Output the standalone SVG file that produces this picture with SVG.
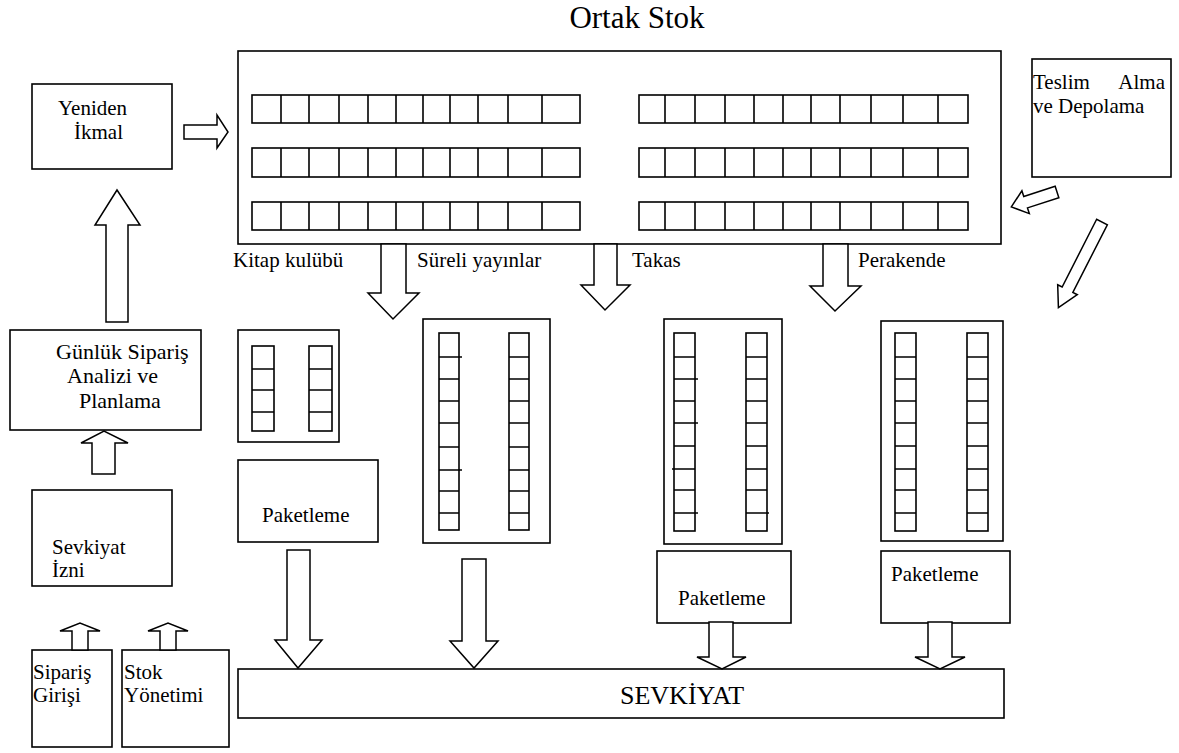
<svg xmlns="http://www.w3.org/2000/svg" width="1179" height="753" viewBox="0 0 1179 753" font-family="Liberation Serif, Times New Roman, DejaVu Serif, serif">
<style>
text{fill:#000;font-size:21px}
text.t{font-size:31px}
text.g{font-size:22px}
text.v{font-size:26px}
.b{fill:#fff;stroke:#000;stroke-width:1.6}
.s{fill:none;stroke:#000;stroke-width:1.6}
.a{fill:#fff;stroke:#000;stroke-width:1.5;stroke-linejoin:miter}
</style>
<rect width="1179" height="753" fill="#fff"/>
<text class="t" x="637" y="28" text-anchor="middle">Ortak Stok</text>

<g id="ortak-stok">
<rect class="b" x="238" y="51" width="763" height="193"/>
<g id="raf-sol">
<rect class="s" x="252" y="95" width="328" height="28"/>
<rect class="s" x="252" y="148" width="328" height="29"/>
<rect class="s" x="252" y="202" width="328" height="28"/>
<path class="s" d="M281,95V123M309,95V123M339,95V123M368,95V123M396,95V123M423,95V123M450,95V123M478,95V123M508,95V123M542,95V123M281,148V177M309,148V177M339,148V177M368,148V177M396,148V177M423,148V177M450,148V177M478,148V177M508,148V177M542,148V177M281,202V230M309,202V230M339,202V230M368,202V230M396,202V230M423,202V230M450,202V230M478,202V230M508,202V230M542,202V230"/>
</g>
<g id="raf-sag">
<rect class="s" x="639" y="95" width="329" height="28"/>
<rect class="s" x="639" y="148" width="329" height="29"/>
<rect class="s" x="639" y="202" width="329" height="28"/>
<path class="s" d="M665,95V123M695,95V123M725,95V123M754,95V123M783,95V123M811,95V123M840,95V123M871,95V123M903,95V123M938,95V123M665,148V177M695,148V177M725,148V177M754,148V177M783,148V177M811,148V177M840,148V177M871,148V177M903,148V177M938,148V177M665,202V230M695,202V230M725,202V230M754,202V230M783,202V230M811,202V230M840,202V230M871,202V230M903,202V230M938,202V230"/>
</g>
</g>

<g id="yeniden-ikmal">
<rect class="b" x="32" y="84" width="140" height="85"/>
<text x="58" y="115">Yeniden</text>
<text x="74" y="139">İkmal</text>
</g>

<g id="teslim-alma">
<rect class="b" x="1032" y="59" width="139" height="118"/>
<text x="1033" y="89">Teslim</text>
<text x="1165" y="89" text-anchor="end">Alma</text>
<text x="1033" y="113">ve Depolama</text>
</g>

<g id="gunluk-siparis">
<rect class="b" x="10" y="330" width="191" height="100"/>
<text class="g" x="56" y="359">Günlük Sipariş</text>
<text class="g" x="67" y="383">Analizi ve</text>
<text class="g" x="79" y="408">Planlama</text>
</g>

<g id="sevkiyat-izni">
<rect class="b" x="32" y="490" width="140" height="96"/>
<text x="52" y="554">Sevkiyat</text>
<text x="52" y="577">İzni</text>
</g>

<g id="siparis-girisi">
<rect class="b" x="32" y="650" width="80" height="97"/>
<text x="33" y="679">Sipariş</text>
<text x="33" y="702">Girişi</text>
</g>

<g id="stok-yonetimi">
<rect class="b" x="122" y="650" width="107" height="97"/>
<text x="124" y="679">Stok</text>
<text x="124" y="702">Yönetimi</text>
</g>

<g id="labels">
<text x="233" y="267">Kitap kulübü</text>
<text x="417" y="267">Süreli yayınlar</text>
<text x="632" y="267">Takas</text>
<text x="858" y="267">Perakende</text>
</g>

<g id="raf-kitap">
<rect class="b" x="238" y="330" width="101" height="112"/>
<rect class="s" x="252" y="346" width="22" height="85"/>
<rect class="s" x="309" y="346" width="23" height="85"/>
<path class="s" d="M252,369H274M252,390H274M252,412H274M309,369H332M309,390H332M309,412H332"/>
</g>

<g id="paketleme-1">
<rect class="b" x="238" y="460" width="140" height="82"/>
<text x="262" y="522">Paketleme</text>
</g>

<g id="raf-sureli">
<rect class="b" x="423" y="319" width="127" height="224"/>
<rect class="s" x="439" y="333" width="20" height="197"/>
<rect class="s" x="509" y="333" width="20" height="197"/>
<path class="s" d="M439,357H462M439,379H459M439,401H459M439,423H459M439,447H459M439,470H462M439,491H459M439,513H459M509,357H529M509,379H529M509,401H529M509,423H529M509,447H529M509,470H529M509,491H529M509,513H529"/>
</g>

<g id="raf-takas">
<rect class="b" x="664" y="319" width="118" height="225"/>
<rect class="s" x="674" y="333" width="21" height="198"/>
<rect class="s" x="746" y="333" width="21" height="198"/>
<path class="s" d="M674,357H695M674,379H698M674,401H695M674,423H698M674,446H695M672,469H695M674,490H695M674,513H698M746,357H767M746,379H767M746,401H767M746,423H767M746,446H767M746,469H767M746,490H767M746,513H769"/>
</g>

<g id="raf-perakende">
<rect class="b" x="881" y="321" width="122" height="220"/>
<rect class="s" x="895" y="333" width="21" height="198"/>
<rect class="s" x="967" y="333" width="21" height="198"/>
<path class="s" d="M895,357H916M895,379H916M895,401H916M895,423H916M895,446H916M895,469H916M895,490H916M895,513H916M967,357H988M967,379H988M967,401H988M967,423H988M967,446H988M967,469H988M967,490H988M967,513H988"/>
</g>

<g id="paketleme-3">
<rect class="b" x="657" y="551" width="134" height="72"/>
<text x="678" y="605">Paketleme</text>
</g>

<g id="paketleme-4">
<rect class="b" x="881" y="551" width="129" height="72"/>
<text x="891" y="581">Paketleme</text>
</g>

<g id="sevkiyat">
<rect class="b" x="238" y="669" width="766" height="49"/>
<text class="v" x="620" y="704">SEVKİYAT</text>
</g>

<g id="connectors">
<polygon class="a" points="184,125 217,125 217,115 228,132 217,148 217,139 184,139"/>
<polygon class="a" points="106,322 106,225 95,225 117,190 140,225 128,225 128,322"/>
<polygon class="a" points="92,474 92,443 81,443 104,431 128,443 115,443 115,474"/>
<polygon class="a" points="72,650 72,631 60,631 80,623 100,631 88,631 88,650"/>
<polygon class="a" points="160,650 160,631 148,631 168,623 188,631 176,631 176,650"/>
<polygon class="a" points="381,244 381,293 368,293 393,319 419,293 406,293 406,244"/>
<polygon class="a" points="594,244 594,285 581,285 605,310 630,285 617,285 617,244"/>
<polygon class="a" points="823,244 823,286 810,286 835,311 861,286 848,286 848,244"/>
<path class="a" d="M0,-6 L-33,-6 L-33,-12 L-48,0 L-33,12 L-33,6 L0,6 Z" transform="translate(1057,192) rotate(-18)"/>
<path class="a" d="M0,-6 L-76,-6 L-76,-11 L-96,0 L-76,11 L-76,6 L0,6 Z" transform="translate(1102,222) rotate(-63)"/>
<polygon class="a" points="287,550 287,640 275,640 298,668 322,640 310,640 310,550"/>
<polygon class="a" points="462,559 462,641 450,641 474,668 498,641 486,641 486,559"/>
<polygon class="a" points="709,622 709,657 697,657 722,669 746,657 733,657 733,622"/>
<polygon class="a" points="928,622 928,657 915,657 940,669 965,657 952,657 952,622"/>
</g>
</svg>
